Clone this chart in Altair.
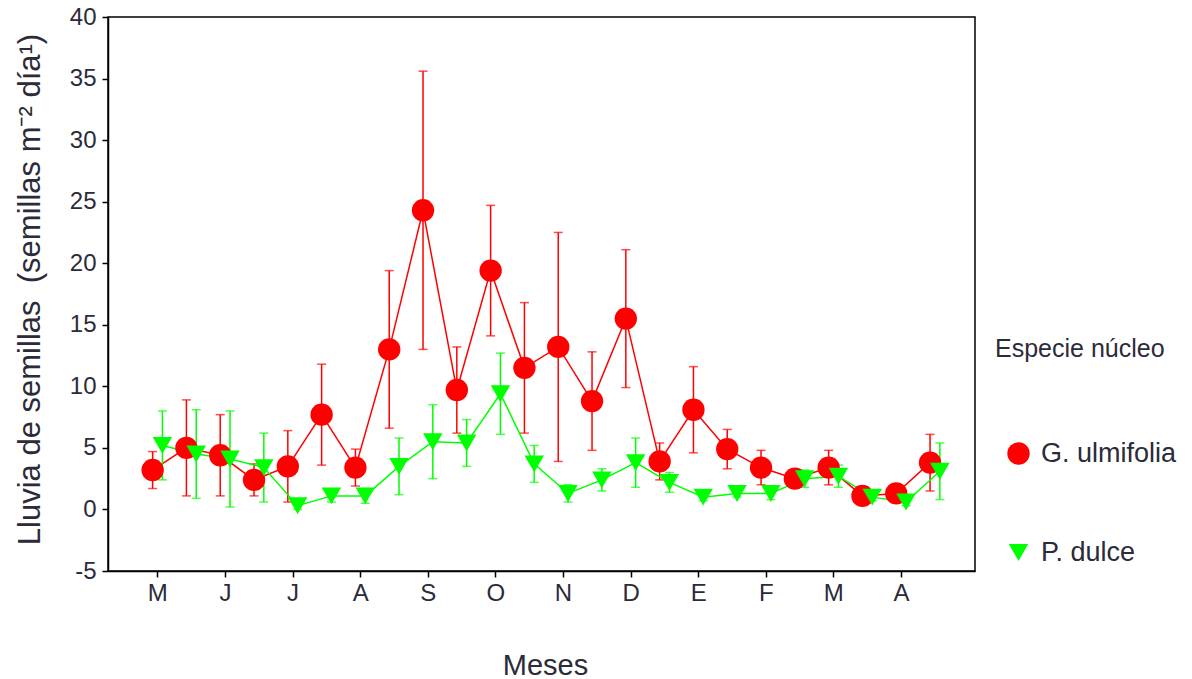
import altair as alt
import pandas as pd

# ---- data ----
months = ["M", "J", "J", "A", "S", "O", "N", "D", "E", "F", "M", "A"]
periods = list(range(24))  # biweekly sampling dates

g_mean = [3.2, 5.0, 4.4, 2.4, 3.5, 7.7, 3.4, 13.0, 24.3, 9.7, 19.4, 11.5,
          13.2, 8.8, 15.5, 3.9, 8.1, 4.9, 3.4, 2.5, 3.4, 1.1, 1.3, 3.8]
g_err = [1.5, 3.9, 3.3, 1.3, 2.9, 4.1, 1.5, 6.4, 11.3, 3.5, 5.3, 5.3,
         9.3, 4.0, 5.6, 1.5, 3.5, 1.6, 1.4, 0.6, 1.4, 0.4, 0.4, 2.3]

p_mean = [5.2, 4.5, 4.1, 3.4, 0.3, 1.1, 1.1, 3.5, 5.5, 5.4, 9.4, 3.7,
          1.3, 2.4, 3.8, 2.2, 1.0, 1.3, 1.3, 2.5, 2.7, 1.0, 0.6, 3.1]
p_err = [2.8, 3.6, 3.9, 2.8, 0.3, 0.5, 0.6, 2.3, 3.0, 1.9, 3.3, 1.5,
         0.7, 0.9, 2.0, 0.8, 0.3, 0.3, 0.5, 0.7, 0.9, 0.3, 0.3, 2.3]

series_names = ["G. ulmifolia", "P. dulce"]
colors = ["#ff0000", "#00ff00"]
shapes = ["circle", "triangle-down"]
offsets = [-0.14, 0.15]  # horizontal dodge between species

rows = []
for name, off, means, errs in [(series_names[0], offsets[0], g_mean, g_err),
                               (series_names[1], offsets[1], p_mean, p_err)]:
    for i, m, e in zip(periods, means, errs):
        rows.append({"serie": name, "i": i, "off": off, "mean": m, "err": e})
df = pd.DataFrame(rows)

FONT = "Liberation Sans"
TXT = "#2b2b3a"

xscale = alt.Scale(domain=[-1.46, 24.19], nice=False, zero=False)
yscale = alt.Scale(domain=[-5, 40], nice=False, zero=False)

month_expr = "[" + ",".join("'" + m + "'" for m in months) + "]"
x_axis = alt.Axis(
    values=periods, grid=False, tickSize=6, tickColor="black", domainColor="black",
    labelExpr=f"datum.value % 2 == 0 ? {month_expr}[datum.value / 2] : ''",
    labelFont=FONT, labelFontSize=24, labelColor=TXT, labelPadding=4,
    labelFlush=False, labelOverlap=False,
    title="Meses", titleFont=FONT, titleFontSize=29, titleFontWeight="normal",
    titleColor=TXT, titleX=437, titleY=94, titleBaseline="middle", titleAnchor="middle",
)
y_axis = alt.Axis(
    values=list(range(-5, 41, 5)), grid=False, tickSize=6, tickColor="black",
    domainColor="black", labelFont=FONT, labelFontSize=24, labelColor=TXT,
    labelPadding=6, labelExpr="'' + datum.value",
    title="Lluvia de semillas\u00a0\u00a0(semillas m\u207b\u00b2 día\u00b9)",
    titleFont=FONT, titleFontSize=31, titleFontWeight="normal", titleColor=TXT,
    titleX=-78, titleY=272, titleAngle=-90, titleAlign="center", titleBaseline="middle",
)

base = alt.Chart(df).transform_calculate(
    xpos="datum.i + datum.off",
    lo="datum.mean - datum.err",
    hi="datum.mean + datum.err",
)

layers = []
for name, col in zip(series_names, colors):
    b = base.transform_filter(alt.datum.serie == name)
    line = b.mark_line(strokeWidth=1.5, color=col).encode(
        x=alt.X("xpos:Q", scale=xscale, axis=x_axis),
        y=alt.Y("mean:Q", scale=yscale, axis=y_axis),
    )
    rule = b.mark_rule(strokeWidth=1.5, color=col).encode(
        x="xpos:Q", y="lo:Q", y2="hi:Q"
    )
    cap_hi = b.mark_tick(orient="horizontal", size=9, thickness=1.5, color=col).encode(
        x="xpos:Q", y="hi:Q"
    )
    cap_lo = b.mark_tick(orient="horizontal", size=9, thickness=1.5, color=col).encode(
        x="xpos:Q", y="lo:Q"
    )
    layers += [line, rule, cap_hi, cap_lo]

points = base.mark_point(filled=True, opacity=1, strokeWidth=0).encode(
    x="xpos:Q",
    y="mean:Q",
    color=alt.Color("serie:N", scale=alt.Scale(domain=series_names, range=colors),
                    legend=alt.Legend(title="Especie núcleo")),
    shape=alt.Shape("serie:N", scale=alt.Scale(domain=series_names, range=shapes),
                    legend=alt.Legend(title="Especie núcleo")),
    size=alt.Size("serie:N", scale=alt.Scale(domain=series_names, range=[500, 380]),
                  legend=None),
    order=alt.Order("i:Q"),
)
layers.append(points)

chart = alt.layer(*layers).properties(
    width=867, height=554,
    autosize=alt.AutoSizeParams(type="none"),
    padding={"left": 108, "top": 17, "right": 217, "bottom": 108},
).configure_view(
    stroke="black", strokeWidth=1.5
).configure_axis(
    domainWidth=1.5, tickWidth=1.5
).configure_legend(
    orient="none", legendX=887, legendY=320, padding=0,
    titleFont=FONT, titleFontSize=25, titleFontWeight="normal", titleColor=TXT,
    titlePadding=78, labelFont=FONT, labelFontSize=27, labelColor=TXT,
    rowPadding=71, symbolOffset=10, labelOffset=9, symbolSize=500,
    symbolStrokeWidth=0,
)

chart.save("out.html", embed_options={"renderer": "svg", "actions": False})
